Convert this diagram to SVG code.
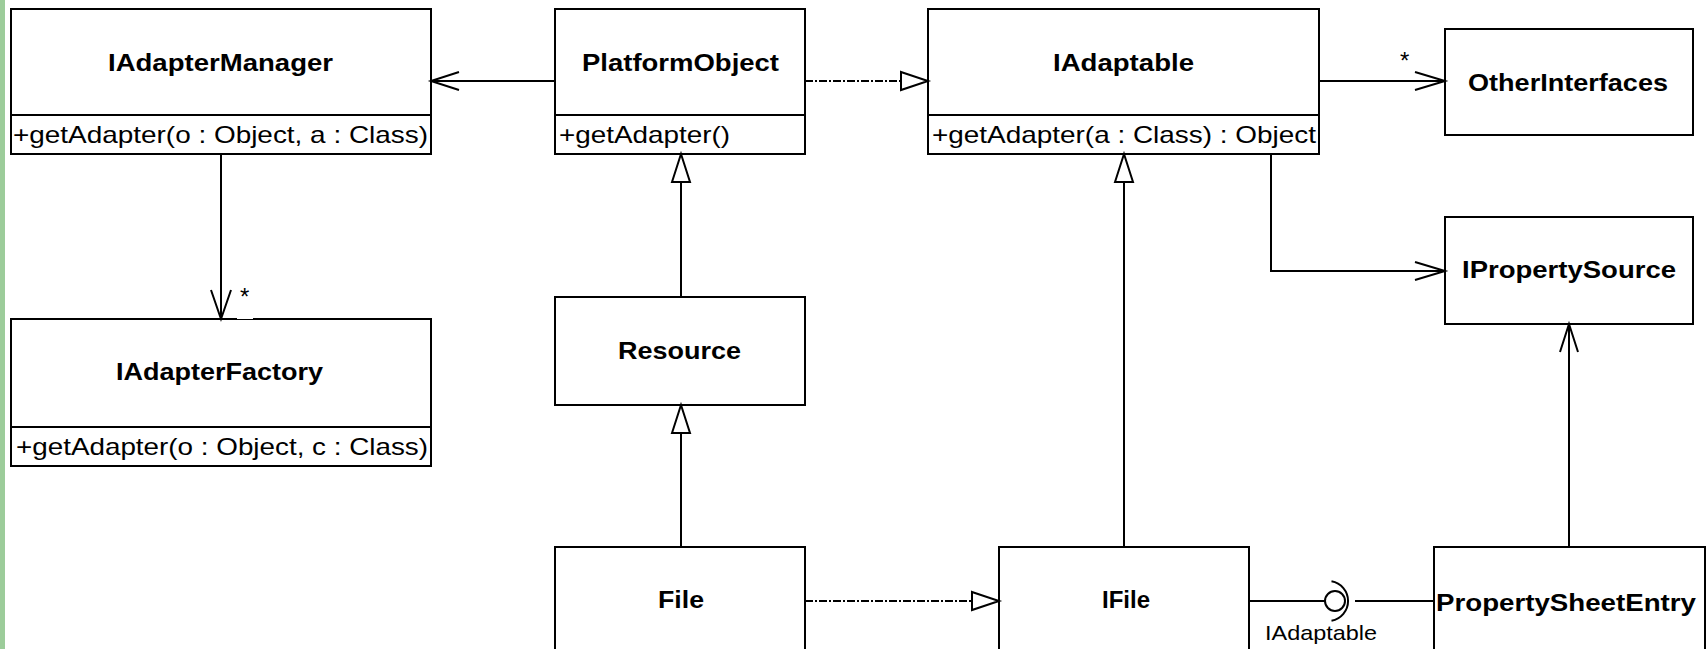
<svg xmlns="http://www.w3.org/2000/svg" width="1708" height="649" viewBox="0 0 1708 649">
  <style>
    .box { fill: #ffffff; stroke: #000000; stroke-width: 2; }
    .sep { stroke: #000000; stroke-width: 2; }
    .title { font-family: "Liberation Sans", Arial, sans-serif; font-weight: bold; font-size: 24px; fill: #000000; }
    .op { font-family: "Liberation Sans", Arial, sans-serif; font-size: 24px; fill: #000000; }
    .lbl { font-family: "Liberation Sans", Arial, sans-serif; font-size: 21px; fill: #000000; }
    .mult { font-family: "Liberation Sans", Arial, sans-serif; font-size: 24px; fill: #000000; }
    .edge { fill: none; stroke: #000000; stroke-width: 2; }
    .dashdot { stroke-dasharray: 8 2 2 2; }
    .head { fill: none; stroke: #000000; stroke-width: 2; stroke-linejoin: miter; }
    .tri { fill: #ffffff; stroke: #000000; stroke-width: 2; stroke-linejoin: miter; }
  </style>

  <!-- page background and left margin strip -->
  <rect x="0" y="0" width="1708" height="649" fill="#ffffff"/>
  <rect x="0" y="0" width="5" height="649" fill="#9ccc9a"/>

  <!-- classes and interfaces -->
  <g id="IAdapterManager">
    <rect class="box" x="11" y="9" width="420" height="145"/>
    <line class="sep" x1="11" y1="115" x2="431" y2="115"/>
    <text class="title" x="108" y="71" textLength="225" lengthAdjust="spacingAndGlyphs">IAdapterManager</text>
    <text class="op" x="13" y="143" textLength="415" lengthAdjust="spacingAndGlyphs">+getAdapter(o : Object, a : Class)</text>
  </g>

  <g id="PlatformObject">
    <rect class="box" x="555" y="9" width="250" height="145"/>
    <line class="sep" x1="555" y1="115" x2="805" y2="115"/>
    <text class="title" x="582" y="71" textLength="197" lengthAdjust="spacingAndGlyphs">PlatformObject</text>
    <text class="op" x="559" y="143" textLength="171" lengthAdjust="spacingAndGlyphs">+getAdapter()</text>
  </g>

  <g id="IAdaptable">
    <rect class="box" x="928" y="9" width="391" height="145"/>
    <line class="sep" x1="928" y1="115" x2="1319" y2="115"/>
    <text class="title" x="1053" y="71" textLength="141" lengthAdjust="spacingAndGlyphs">IAdaptable</text>
    <text class="op" x="932" y="143" textLength="384" lengthAdjust="spacingAndGlyphs">+getAdapter(a : Class) : Object</text>
  </g>

  <g id="OtherInterfaces">
    <rect class="box" x="1445" y="29" width="248" height="106"/>
    <text class="title" x="1468" y="91" textLength="200" lengthAdjust="spacingAndGlyphs">OtherInterfaces</text>
  </g>

  <g id="IPropertySource">
    <rect class="box" x="1445" y="217" width="248" height="107"/>
    <text class="title" x="1462" y="278" textLength="214" lengthAdjust="spacingAndGlyphs">IPropertySource</text>
  </g>

  <g id="IAdapterFactory">
    <rect class="box" x="11" y="319" width="420" height="147"/>
    <line class="sep" x1="11" y1="427" x2="431" y2="427"/>
    <text class="title" x="116" y="380" textLength="207" lengthAdjust="spacingAndGlyphs">IAdapterFactory</text>
    <text class="op" x="16" y="455" textLength="412" lengthAdjust="spacingAndGlyphs">+getAdapter(o : Object, c : Class)</text>
  </g>

  <g id="Resource">
    <rect class="box" x="555" y="297" width="250" height="108"/>
    <text class="title" x="618" y="359" textLength="123" lengthAdjust="spacingAndGlyphs">Resource</text>
  </g>

  <g id="File">
    <rect class="box" x="555" y="547" width="250" height="120"/>
    <text class="title" x="658" y="608" textLength="46" lengthAdjust="spacingAndGlyphs">File</text>
  </g>

  <g id="IFile">
    <rect class="box" x="999" y="547" width="250" height="120"/>
    <text class="title" x="1102" y="608" textLength="48" lengthAdjust="spacingAndGlyphs">IFile</text>
  </g>

  <g id="PropertySheetEntry">
    <rect class="box" x="1434" y="547" width="271" height="120"/>
    <text class="title" x="1436" y="611" textLength="260" lengthAdjust="spacingAndGlyphs">PropertySheetEntry</text>
  </g>

  <!-- relationships -->
  <g id="connectors">
    <!-- PlatformObject -> IAdapterManager (navigable association) -->
    <line class="edge" x1="555" y1="81" x2="431" y2="81"/>
    <polyline class="head" points="459,72 431,81 459,90"/>

    <!-- PlatformObject realizes IAdaptable -->
    <line class="edge dashdot" x1="805" y1="81" x2="901" y2="81"/>
    <polygon class="tri" points="901,72 928,81 901,90"/>

    <!-- IAdaptable -> OtherInterfaces, many -->
    <line class="edge" x1="1319" y1="81" x2="1445" y2="81"/>
    <polyline class="head" points="1415,72 1445,81 1415,90"/>
    <text class="mult" x="1400" y="69">*</text>

    <!-- IAdaptable -> IPropertySource -->
    <polyline class="edge" points="1271,154 1271,271 1445,271"/>
    <polyline class="head" points="1415,262 1445,271 1415,280"/>

    <!-- IAdapterManager -> IAdapterFactory, many -->
    <line class="edge" x1="221" y1="154" x2="221" y2="319"/>
    <polyline class="head" points="211,290 221,319 231,290"/>
    <rect x="237" y="316" width="16" height="3" fill="#ffffff"/>
    <text class="mult" x="240" y="305">*</text>

    <!-- Resource extends PlatformObject -->
    <line class="edge" x1="681" y1="297" x2="681" y2="182"/>
    <polygon class="tri" points="672,182 681,154 690,182"/>

    <!-- File extends Resource -->
    <line class="edge" x1="681" y1="547" x2="681" y2="433"/>
    <polygon class="tri" points="672,433 681,405 690,433"/>

    <!-- File realizes IFile -->
    <line class="edge dashdot" x1="805" y1="601" x2="972" y2="601"/>
    <polygon class="tri" points="972,592 999,601 972,610"/>

    <!-- IFile extends IAdaptable -->
    <line class="edge" x1="1124" y1="547" x2="1124" y2="182"/>
    <polygon class="tri" points="1115,182 1124,154 1133,182"/>

    <!-- PropertySheetEntry -> IPropertySource -->
    <line class="edge" x1="1569" y1="547" x2="1569" y2="324"/>
    <polyline class="head" points="1560,352 1569,324 1578,352"/>

    <!-- IFile provides IAdaptable, PropertySheetEntry requires it -->
    <line class="edge" x1="1249" y1="601" x2="1325" y2="601"/>
    <circle class="edge" cx="1335" cy="601" r="10"/>
    <path class="edge" d="M1331.5,581.3 A20,20 0 0 1 1331.5,620.7"/>
    <line class="edge" x1="1355" y1="601" x2="1434" y2="601"/>
    <text class="lbl" x="1265" y="640" textLength="112" lengthAdjust="spacingAndGlyphs">IAdaptable</text>
  </g>
</svg>
